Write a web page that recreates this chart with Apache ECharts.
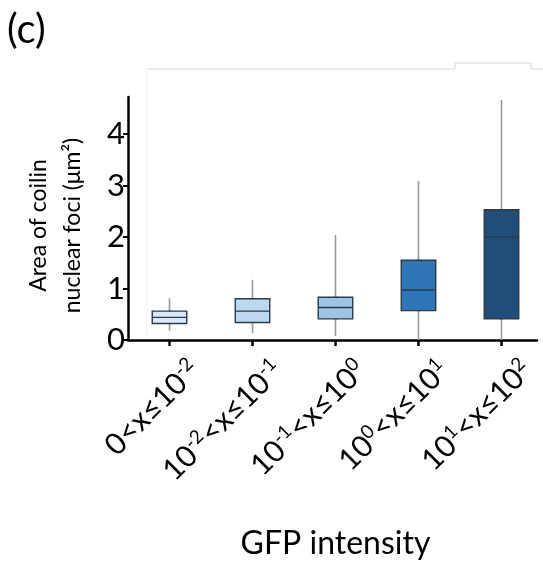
<!DOCTYPE html>
<html>
<head>
<meta charset="utf-8">
<script src="https://cdn.jsdelivr.net/npm/echarts@6/dist/echarts.min.js"></script>
<style>html,body{margin:0;padding:0;background:#fff}#c{width:543px;height:567px}</style>
</head>
<body>
<div id="c"></div>
<script>
// categories (GFP intensity bins)
const categories = ['0<x≤10{s|-2}', '10{s|-2}<x≤10{s|-1}', '10{s|-1}<x≤10{s|0}', '10{s|0}<x≤10{s|1}', '10{s|1}<x≤10{s|2}'];
// box statistics: [min, Q1, median, Q3, max]
const whiskerMin = [0.18, 0.13, 0.08, 0.00, 0.00];
const q1 = [0.32, 0.34, 0.41, 0.57, 0.41];
const median = [0.44, 0.56, 0.63, 0.97, 2.00];
const q3 = [0.56, 0.80, 0.83, 1.55, 2.53];
const whiskerMax = [0.81, 1.17, 2.04, 3.09, 4.66];
const boxColors = ['#dbe9f6', '#bdd7ee', '#9dc3e6', '#2e75b6', '#1f4e79'];
const yTicks = [0, 1, 2, 3, 4];

const FONT = 'Lato';
const chart = echarts.init(document.getElementById('c'));

const wickData = categories.map((c, i) => [q1[i], q3[i], whiskerMin[i], whiskerMax[i]]);
const boxData = categories.map((c, i) => ({
  value: [q1[i], q1[i], median[i], q3[i], q3[i]],
  itemStyle: { color: boxColors[i] }
}));

chart.setOption({
  animation: false,
  title: { text: '(c)', left: 2, top: 5, textStyle: { fontFamily: FONT, fontSize: 40, fontWeight: 'normal', color: '#000' } },
  graphic: [{
    type: 'polyline', silent: true,
    shape: { points: [[147, 69], [455, 69], [455, 63], [531, 63], [531, 69], [543, 69]] },
    style: { stroke: '#d8d8d8', lineWidth: 1, fill: null }
  }, {
    type: 'line', silent: true,
    shape: { x1: 147, y1: 69, x2: 147, y2: 338 },
    style: { stroke: '#f3f3f3', lineWidth: 1 }
  }],
  grid: [
    { left: 128, top: 97, width: 423.5, height: 243 },
    { left: 128, top: 97, width: 409, height: 243 }
  ],
  xAxis: [{
    type: 'category', gridIndex: 0, data: categories,
    axisLine: { show: false },
    axisTick: { show: true, alignWithLabel: true, length: 6, lineStyle: { color: '#000', width: 2.5 } },
    axisLabel: {
      rotate: 45, margin: 0, interval: 0, color: '#000',
      fontFamily: FONT, fontSize: 30, padding: [72, 0, 0, 0],
      rich: { s: { fontFamily: FONT, fontSize: 19, verticalAlign: 'top', padding: [0, 0, 14, 0] } }
    },
    name: 'GFP intensity', nameLocation: 'middle', nameGap: 188,
    nameTextStyle: { fontFamily: FONT, fontSize: 32, color: '#000' }
  }, {
    type: 'value', gridIndex: 1, min: 0, max: 1,
    axisLine: { show: true, lineStyle: { color: '#000', width: 2.5 } },
    axisTick: { show: false }, axisLabel: { show: false }, splitLine: { show: false }
  }],
  yAxis: [{
    type: 'value', gridIndex: 0, min: 0, max: 4.72, interval: 1,
    axisLine: { show: true, lineStyle: { color: '#000', width: 2.5 } },
    axisTick: { show: true, length: 5, customValues: yTicks, lineStyle: { color: '#000', width: 2 } },
    axisLabel: { customValues: yTicks, margin: 3, color: '#000', fontFamily: FONT, fontSize: 31 },
    splitLine: { show: false },
    name: 'Area of coilin\nnuclear foci (μm²)', nameLocation: 'middle', nameGap: 38,
    nameTextStyle: { fontFamily: FONT, fontSize: 23, color: '#000', lineHeight: 34, padding: [0, 14, 0, 0] }
  }, {
    type: 'value', gridIndex: 1, show: false, min: 0, max: 1
  }],
  series: [{
    type: 'candlestick', xAxisIndex: 0, yAxisIndex: 0,
    data: wickData, barWidth: 2,
    itemStyle: { color: '#9a9a9a', color0: '#9a9a9a', borderColor: '#9a9a9a', borderColor0: '#9a9a9a', borderWidth: 1.6 }
  }, {
    type: 'boxplot', xAxisIndex: 0, yAxisIndex: 0,
    data: boxData, boxWidth: [34.5, 34.5],
    itemStyle: { borderColor: '#2d3a47', borderWidth: 1.4 }
  }]
});
</script>
</body>
</html>
